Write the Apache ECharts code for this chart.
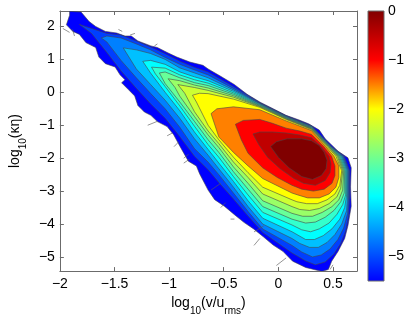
<!DOCTYPE html>
<html>
<head>
<meta charset="utf-8">
<script src="https://cdn.jsdelivr.net/npm/echarts@6/dist/echarts.min.js"></script>
<style>
  html, body { margin: 0; padding: 0; background: #fff; }
  #chart { width: 407px; height: 321px; }
</style>
</head>
<body>
<div id="chart"></div>
<script>
// axis ranges and ticks
const X_MIN = -2, X_MAX = 0.72;
const Y_MIN = -5.43, Y_MAX = 2.47;
const CBAR_MIN = -5.5, CBAR_MAX = 0;
const X_TICKS = [-2, -1.5, -1, -0.5, 0, 0.5];
const Y_TICKS = [-5, -4, -3, -2, -1, 0, 1, 2];
const CBAR_TICKS = [-5, -4, -3, -2, -1, 0];

// colour map: [value, colour]
const CMAP = [
  [-5.5, '#0000ff'], [-3.77, '#00ffff'], [-2.885, '#80ff80'],
  [-2.0, '#ffff00'], [-1.0, '#ff0000'], [0, '#800000']
];

// value of each filled band, outermost first
const LEVELS = [-5.5, -5.07, -4.63, -4.2, -3.77, -3.42, -3.06, -2.71, -2.35, -2.0, -1.5, -1.0, -0.5, 0];

// contour outlines [log10(v/urms), log10(k eta)], outermost first
const CONTOUR_0 = [[-1.911,2.46],[-1.806,2.44],[-1.732,2.15],[-1.672,2.0],[-1.583,1.85],[-1.479,1.80],[-1.404,1.71],[-1.346,1.71],[-1.286,1.56],[-1.167,1.41],[-1.107,1.36],[-1.018,1.21],[-0.929,1.07],[-0.810,0.92],[-0.690,0.82],[-0.643,0.71],[-0.524,0.48],[-0.404,0.24],[-0.286,-0.06],[-0.167,-0.30],[-0.047,-0.50],[0.071,-0.70],[0.190,-0.84],[0.277,-0.956],[0.375,-1.147],[0.429,-1.412],[0.547,-1.79],[0.637,-1.99],[0.667,-2.29],[0.661,-2.87],[0.667,-3.46],[0.637,-4.05],[0.607,-4.44],[0.547,-4.83],[0.488,-5.13],[0.458,-5.38],[0.399,-5.44],[0.25,-5.32],[0.131,-5.13],[0.042,-4.83],[-0.047,-4.64],[-0.137,-4.39],[-0.226,-4.15],[-0.315,-3.95],[-0.404,-3.71],[-0.494,-3.46],[-0.583,-3.26],[-0.643,-2.97],[-0.720,-2.48],[-0.750,-2.24],[-0.824,-2.09],[-0.899,-1.65],[-0.958,-1.29],[-1.018,-1.04],[-1.107,-0.89],[-1.167,-0.70],[-1.226,-0.60],[-1.286,-0.40],[-1.315,-0.11],[-1.375,0.09],[-1.435,0.29],[-1.404,0.38],[-1.449,0.53],[-1.494,0.77],[-1.583,0.87],[-1.643,1.07],[-1.672,1.36],[-1.762,1.51],[-1.821,1.76],[-1.881,1.85],[-1.940,2.05],[-1.911,2.34]];
const CONTOUR_1 = [[-1.82,2.06],[-1.71,1.94],[-1.57,1.79],[-1.44,1.74],[-1.30,1.56],[-1.17,1.38],[-1.04,1.18],[-0.90,0.94],[-0.77,0.76],[-0.643,0.618],[-0.411,0.176],[-0.170,-0.312],[0.071,-0.712],[0.304,-1.015],[0.487,-1.647],[0.603,-1.941],[0.652,-2.382],[0.652,-3.118],[0.643,-3.76],[0.616,-4.21],[0.571,-4.59],[0.509,-4.91],[0.429,-5.15],[0.339,-5.24],[0.25,-5.12],[0.125,-4.88],[-0.143,-4.26],[-0.277,-3.76],[-0.411,-3.24],[-0.545,-2.74],[-0.643,-2.35],[-0.768,-1.94],[-0.902,-1.35],[-1.036,-0.79],[-1.17,-0.35],[-1.30,0.12],[-1.44,0.65],[-1.57,1.21],[-1.71,1.79]];
const CONTOUR_2 = [[-1.62,1.65],[-1.57,1.71],[-1.44,1.65],[-1.30,1.47],[-1.17,1.29],[-1.036,1.06],[-0.902,0.85],[-0.768,0.68],[-0.643,0.529],[-0.411,0.118],[-0.170,-0.329],[0.071,-0.726],[0.304,-1.029],[0.482,-1.647],[0.594,-1.941],[0.643,-2.382],[0.643,-3.118],[0.634,-3.68],[0.598,-4.12],[0.545,-4.47],[0.473,-4.76],[0.393,-4.94],[0.3125,-5.0],[0.214,-4.85],[0.125,-4.65],[-0.143,-4.15],[-0.277,-3.62],[-0.411,-3.06],[-0.545,-2.5],[-0.643,-2.12],[-0.768,-1.71],[-0.902,-1.06],[-1.036,-0.5],[-1.17,-0.03],[-1.30,0.44],[-1.44,0.97],[-1.57,1.53]];
const CONTOUR_3 = [[-1.42,1.35],[-1.30,1.29],[-1.17,1.18],[-1.036,1.0],[-0.902,0.74],[-0.768,0.59],[-0.643,0.441],[-0.411,0.074],[-0.170,-0.347],[0.071,-0.741],[0.304,-1.044],[0.478,-1.647],[0.585,-1.941],[0.634,-2.382],[0.634,-3.118],[0.625,-3.59],[0.580,-4.0],[0.518,-4.32],[0.446,-4.56],[0.366,-4.71],[0.286,-4.71],[0.196,-4.59],[0.125,-4.44],[-0.143,-4.0],[-0.277,-3.47],[-0.411,-2.88],[-0.545,-2.32],[-0.643,-1.91],[-0.768,-1.41],[-0.902,-0.79],[-1.036,-0.24],[-1.17,0.24],[-1.30,0.71]];
const CONTOUR_4 = [[-1.241,0.94],[-1.170,0.97],[-1.036,0.85],[-0.902,0.62],[-0.768,0.47],[-0.643,0.353],[-0.411,0.029],[-0.170,-0.365],[0.071,-0.756],[0.304,-1.059],[0.473,-1.647],[0.576,-1.941],[0.625,-2.382],[0.625,-3.118],[0.607,-3.5],[0.5625,-3.853],[0.491,-4.147],[0.411,-4.353],[0.330,-4.471],[0.25,-4.471],[0.125,-4.235],[-0.143,-3.824],[-0.277,-3.294],[-0.411,-2.706],[-0.545,-2.147],[-0.643,-1.735],[-0.768,-1.206],[-0.902,-0.559],[-1.036,0.0],[-1.170,0.588]];
const CONTOUR_5 = [[-1.161,0.765],[-1.036,0.735],[-0.902,0.529],[-0.768,0.382],[-0.643,0.279],[-0.411,-0.015],[-0.170,-0.382],[0.071,-0.771],[0.304,-1.074],[0.469,-1.647],[0.567,-1.941],[0.616,-2.382],[0.616,-3.118],[0.589,-3.412],[0.536,-3.706],[0.464,-3.971],[0.375,-4.147],[0.295,-4.235],[0.214,-4.176],[0.125,-4.029],[-0.143,-3.647],[-0.277,-3.118],[-0.411,-2.559],[-0.545,-1.971],[-0.643,-1.588],[-0.768,-1.029],[-0.902,-0.412],[-1.036,0.176],[-1.125,0.559]];
const CONTOUR_6 = [[-1.089,0.588],[-1.036,0.618],[-0.902,0.441],[-0.768,0.294],[-0.643,0.206],[-0.411,-0.059],[-0.170,-0.4],[0.071,-0.785],[0.304,-1.088],[0.464,-1.647],[0.558,-1.941],[0.607,-2.382],[0.603,-3.059],[0.571,-3.324],[0.509,-3.588],[0.429,-3.794],[0.339,-3.941],[0.25,-3.971],[0.125,-3.853],[-0.143,-3.471],[-0.277,-2.941],[-0.411,-2.412],[-0.545,-1.824],[-0.643,-1.441],[-0.768,-0.882],[-0.902,-0.294],[-1.036,0.265]];
const CONTOUR_7 = [[-1.009,0.412],[-0.902,0.353],[-0.768,0.221],[-0.643,0.132],[-0.411,-0.103],[-0.170,-0.418],[0.071,-0.797],[0.304,-1.103],[0.460,-1.647],[0.549,-1.941],[0.598,-2.382],[0.589,-2.971],[0.554,-3.265],[0.491,-3.471],[0.402,-3.647],[0.3125,-3.765],[0.223,-3.765],[0.125,-3.676],[-0.143,-3.294],[-0.277,-2.765],[-0.411,-2.265],[-0.545,-1.676],[-0.643,-1.294],[-0.768,-0.735],[-0.902,-0.118],[-0.946,0.147]];
const CONTOUR_8 = [[-0.920,0.235],[-0.768,0.147],[-0.643,0.059],[-0.411,-0.147],[-0.170,-0.435],[0.071,-0.809],[0.304,-1.118],[0.455,-1.647],[0.540,-1.941],[0.589,-2.382],[0.571,-2.912],[0.536,-3.176],[0.464,-3.382],[0.375,-3.529],[0.286,-3.588],[0.196,-3.559],[0.125,-3.471],[-0.143,-3.088],[-0.277,-2.588],[-0.411,-2.118],[-0.545,-1.559],[-0.643,-1.176],[-0.768,-0.588],[-0.857,-0.029]];
const CONTOUR_9 = [[-0.786,-0.088],[-0.723,-0.029],[-0.643,-0.04],[-0.411,-0.206],[-0.170,-0.456],[0.071,-0.824],[0.304,-1.132],[0.446,-1.647],[0.527,-1.941],[0.580,-2.382],[0.5625,-2.824],[0.518,-3.088],[0.446,-3.265],[0.357,-3.382],[0.259,-3.382],[0.170,-3.324],[0.125,-3.265],[-0.143,-2.882],[-0.277,-2.441],[-0.411,-1.971],[-0.545,-1.441],[-0.643,-1.0],[-0.75,-0.294]];
const CONTOUR_10 = [[-0.616,-0.647],[-0.5625,-0.5],[-0.411,-0.441],[-0.170,-0.529],[0.071,-0.868],[0.304,-1.162],[0.433,-1.647],[0.509,-1.941],[0.554,-2.235],[0.554,-2.588],[0.527,-2.882],[0.464,-3.088],[0.375,-3.206],[0.268,-3.206],[0.179,-3.118],[0.125,-3.059],[-0.143,-2.618],[-0.277,-2.235],[-0.411,-1.824],[-0.545,-1.353]];
const CONTOUR_11 = [[-0.393,-0.971],[-0.321,-0.853],[-0.170,-0.824],[-0.054,-0.941],[0.071,-1.088],[0.196,-1.176],[0.304,-1.279],[0.415,-1.647],[0.487,-1.941],[0.518,-2.235],[0.518,-2.529],[0.491,-2.765],[0.420,-2.941],[0.321,-3.0],[0.214,-2.941],[0.125,-2.824],[-0.009,-2.588],[-0.143,-2.294],[-0.277,-1.853],[-0.339,-1.441]];
const CONTOUR_12 = [[-0.232,-1.265],[-0.170,-1.206],[-0.054,-1.206],[0.071,-1.235],[0.196,-1.294],[0.304,-1.382],[0.393,-1.647],[0.464,-1.941],[0.482,-2.176],[0.473,-2.441],[0.429,-2.676],[0.339,-2.824],[0.232,-2.765],[0.143,-2.618],[0.018,-2.324],[-0.098,-1.971],[-0.179,-1.588]];
const CONTOUR_13 = [[-0.071,-1.647],[-0.018,-1.5],[0.080,-1.412],[0.214,-1.412],[0.304,-1.471],[0.375,-1.618],[0.420,-1.824],[0.446,-2.059],[0.4375,-2.324],[0.393,-2.529],[0.3125,-2.647],[0.214,-2.559],[0.098,-2.294],[0,-1.971]];

const CONTOURS = [CONTOUR_0, CONTOUR_1, CONTOUR_2, CONTOUR_3, CONTOUR_4, CONTOUR_5, CONTOUR_6,
  CONTOUR_7, CONTOUR_8, CONTOUR_9, CONTOUR_10, CONTOUR_11, CONTOUR_12, CONTOUR_13];

// stray contour fragments along the edge of the cloud: [x1, y1, x2, y2]
const STRAYS = [
  [-1.973, 1.94, -1.911, 1.82], [-1.884, 1.91, -1.866, 1.71], [-1.464, 1.91, -1.429, 1.85],
  [-1.357, 1.74, -1.3125, 1.79], [-1.134, 1.41, -1.107, 1.47], [-1.196, -1.0, -1.107, -0.88],
  [-1.018, -1.32, -0.973, -1.24], [-0.955, -1.65, -0.911, -1.5], [-0.866, -2.0, -0.821, -1.88],
  [-0.866, -2.15, -0.813, -2.03], [-0.616, -2.97, -0.527, -2.76], [-0.527, -3.5, -0.482, -3.35],
  [-0.4375, -3.85, -0.402, -3.85], [-0.223, -4.24, -0.134, -4.06], [-0.223, -4.65, -0.170, -4.44],
  [-0.018, -5.26, 0.071, -5.03], [0.473, -5.38, 0.5, -5.24]
];

const FONT = '"Liberation Sans", Arial, Helvetica, sans-serif';
const AXIS_COLOR = '#6b6b6b';
const LINE_COLOR = 'rgba(70,70,70,0.85)';

function fmt(v) {
  return String(v).replace('-', '\u2212');
}

function hexToRgb(h) {
  const n = parseInt(h.slice(1), 16);
  return [(n >> 16) & 255, (n >> 8) & 255, n & 255];
}

function colorAt(v) {
  if (v <= CMAP[0][0]) return CMAP[0][1];
  for (let i = 1; i < CMAP.length; i++) {
    if (v <= CMAP[i][0]) {
      const [v0, c0] = CMAP[i - 1];
      const [v1, c1] = CMAP[i];
      const t = (v - v0) / (v1 - v0);
      const a = hexToRgb(c0), b = hexToRgb(c1);
      return 'rgb(' + a.map((x, k) => Math.round(x + (b[k] - x) * t)).join(',') + ')';
    }
  }
  return CMAP[CMAP.length - 1][1];
}

// subscripts: main text sits at the top of the line box, subscripts at the bottom
const richLabel = {
  a: { fontSize: 14, fontFamily: FONT, color: '#000', lineHeight: 14, verticalAlign: 'top' },
  s: { fontSize: 10, fontFamily: FONT, color: '#000', lineHeight: 20, verticalAlign: 'bottom' }
};

const tickLabel = { color: '#000', fontSize: 14, fontFamily: FONT, formatter: fmt };

const chart = echarts.init(document.getElementById('chart'), null, { renderer: 'canvas' });

chart.setOption({
  animation: false,
  backgroundColor: '#fff',
  grid: [
    { left: 52, top: 11, width: 305, height: 268 },
    { left: 368, top: 11, width: 16, height: 270 }
  ],
  xAxis: [
    {
      gridIndex: 0, type: 'value', min: X_MIN, max: X_MAX, position: 'bottom',
      axisLine: { show: true, onZero: false, lineStyle: { color: AXIS_COLOR } },
      axisTick: { inside: true, length: 4, customValues: X_TICKS, lineStyle: { color: AXIS_COLOR } },
      axisLabel: Object.assign({ customValues: X_TICKS, margin: 6 }, tickLabel),
      splitLine: { show: false },
      name: '{a|log}{s|10}{a|(v/u}{s|rms}{a|)}',
      nameLocation: 'middle', nameGap: 19,
      nameTextStyle: { rich: richLabel }
    },
    {
      gridIndex: 0, type: 'value', min: X_MIN, max: X_MAX, position: 'top',
      axisLine: { show: true, onZero: false, lineStyle: { color: AXIS_COLOR } },
      axisTick: { inside: true, length: 4, customValues: X_TICKS, lineStyle: { color: AXIS_COLOR } },
      axisLabel: { show: false },
      splitLine: { show: false }
    },
    { gridIndex: 1, type: 'value', min: 0, max: 1, show: false }
  ],
  yAxis: [
    {
      gridIndex: 0, type: 'value', min: Y_MIN, max: Y_MAX, position: 'left',
      axisLine: { show: true, onZero: false, lineStyle: { color: AXIS_COLOR } },
      axisTick: { inside: true, length: 4, customValues: Y_TICKS, lineStyle: { color: AXIS_COLOR } },
      axisLabel: Object.assign({ customValues: Y_TICKS, margin: 5 }, tickLabel),
      splitLine: { show: false },
      name: '{a|log}{s|10}{a|(\u03ba\u03b7)}',
      nameLocation: 'middle', nameGap: 29,
      nameTextStyle: { rich: richLabel }
    },
    {
      gridIndex: 0, type: 'value', min: Y_MIN, max: Y_MAX, position: 'right',
      axisLine: { show: true, onZero: false, lineStyle: { color: AXIS_COLOR } },
      axisTick: { inside: true, length: 4, customValues: Y_TICKS, lineStyle: { color: AXIS_COLOR } },
      axisLabel: { show: false },
      splitLine: { show: false }
    },
    {
      gridIndex: 1, type: 'value', min: CBAR_MIN, max: CBAR_MAX, position: 'right',
      axisLine: { show: false, onZero: false },
      axisTick: { inside: true, length: 3, customValues: CBAR_TICKS, lineStyle: { color: AXIS_COLOR } },
      axisLabel: Object.assign({ customValues: CBAR_TICKS, margin: 4 }, tickLabel),
      splitLine: { show: false }
    }
  ],
  series: [
    {
      type: 'custom',
      xAxisIndex: 0, yAxisIndex: 0,
      clip: true, silent: true,
      data: CONTOURS.map((_, i) => [X_MIN, Y_MIN, i]),
      renderItem(params, api) {
        const i = api.value(2);
        return {
          type: 'polygon',
          shape: { points: CONTOURS[i].map((p) => api.coord(p)) },
          style: { fill: colorAt(LEVELS[i]), stroke: LINE_COLOR, lineWidth: 0.7 }
        };
      }
    },
    {
      type: 'custom',
      xAxisIndex: 0, yAxisIndex: 0,
      clip: true, silent: true,
      data: STRAYS,
      renderItem(params, api) {
        const a = api.coord([api.value(0), api.value(1)]);
        const b = api.coord([api.value(2), api.value(3)]);
        return {
          type: 'line',
          shape: { x1: a[0], y1: a[1], x2: b[0], y2: b[1] },
          style: { stroke: 'rgba(90,90,90,0.8)', lineWidth: 0.8 }
        };
      }
    },
    {
      type: 'custom',
      xAxisIndex: 2, yAxisIndex: 2,
      silent: true,
      data: [[0, CBAR_MIN]],
      renderItem(params, api) {
        const p0 = api.coord([0, CBAR_MAX]);
        const p1 = api.coord([1, CBAR_MIN]);
        const stops = CMAP.map(([v, c]) => ({ offset: (CBAR_MAX - v) / (CBAR_MAX - CBAR_MIN), color: c }))
          .sort((a, b) => a.offset - b.offset);
        return {
          type: 'rect',
          shape: { x: p0[0], y: p0[1], width: p1[0] - p0[0], height: p1[1] - p0[1] },
          style: {
            fill: new echarts.graphic.LinearGradient(0, 0, 0, 1, stops),
            stroke: AXIS_COLOR, lineWidth: 1
          }
        };
      }
    }
  ]
});
</script>
</body>
</html>
